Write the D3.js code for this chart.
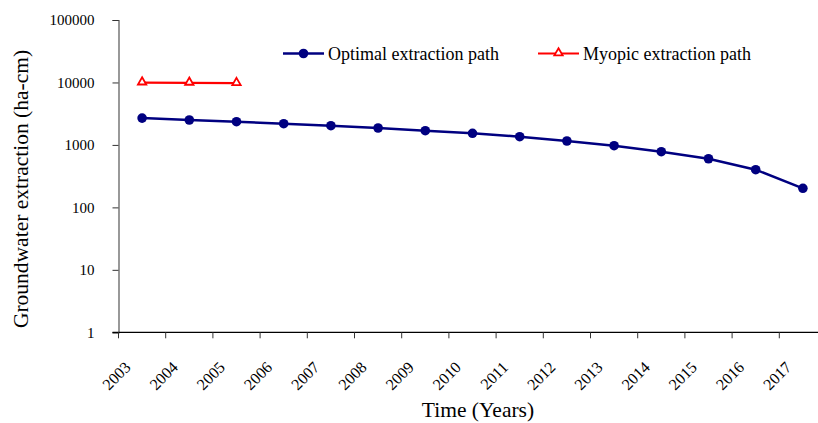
<!DOCTYPE html>
<html>
<head>
<meta charset="utf-8">
<script src="https://cdn.jsdelivr.net/npm/d3@7"></script>
<style>
  body { margin: 0; background: #fff; }
  svg text { font-family: "Liberation Serif", "Times New Roman", serif; fill: #000; }
</style>
</head>
<body>
<div id="chart"></div>
<script>
const years = [2003, 2004, 2005, 2006, 2007, 2008, 2009, 2010, 2011, 2012, 2013, 2014, 2015, 2016, 2017];
const optimal = [2690, 2506, 2355, 2187, 2031, 1866, 1690, 1535, 1355, 1156, 972, 779, 601, 401, 202];
const myopicYears = [2003, 2004, 2005];
const myopic = [9950, 9850, 9750];
const yTicks = [1, 10, 100, 1000, 10000, 100000];

const W = 818, H = 423;
const svg = d3.select('#chart').append('svg')
  .attr('width', W)
  .attr('height', H);

// plot box (x axis runs past the right edge like in the source)
const x = d3.scaleBand()
  .domain(years)
  .range([118.5, 118.5 + 47.2 * years.length]);

const y = d3.scaleLog()
  .domain([1, 100000])
  .range([332.3, 20]);

const xc = d => x(d) + x.bandwidth() / 2;

// y axis
const yAxis = svg.append('g')
  .attr('transform', 'translate(118.5,0)')
  .call(d3.axisLeft(y).tickValues(yTicks).tickSize(6).tickPadding(18).tickFormat(d3.format('d')));
yAxis.select('.domain').attr('stroke', '#555').attr('stroke-width', 1.2);
yAxis.selectAll('.tick line').attr('stroke', '#333');
yAxis.selectAll('text').style('font-size', '15px').attr('fill', '#000');

// x axis
const xAxis = svg.append('g')
  .attr('transform', 'translate(0,332.3)');
xAxis.append('line')
  .attr('x1', 112.5).attr('x2', W)
  .attr('stroke', '#000').attr('stroke-width', 1.2);
xAxis.selectAll('line.tk')
  .data(years)
  .enter().append('line')
  .attr('class', 'tk')
  .attr('x1', d => x(d)).attr('x2', d => x(d))
  .attr('y1', 0).attr('y2', 6)
  .attr('stroke', '#333');
xAxis.selectAll('text.lbl')
  .data(years)
  .enter().append('text')
  .attr('class', 'lbl')
  .attr('text-anchor', 'end')
  .attr('transform', d => `translate(${xc(d) - 10.5},36) rotate(-45)`)
  .style('font-size', '16px')
  .text(d => d);

// axis titles
svg.append('text')
  .attr('x', 478).attr('y', 417)
  .attr('text-anchor', 'middle')
  .style('font-size', '21.5px')
  .text('Time (Years)');

svg.append('text')
  .attr('transform', 'translate(28,189) rotate(-90)')
  .attr('text-anchor', 'middle')
  .style('font-size', '21.5px')
  .text('Groundwater extraction (ha-cm)');

const navy = '#000080';
const red = '#ff0000';

// optimal path
const optData = years.map((d, i) => ({ year: d, v: optimal[i] }));
const line = d3.line()
  .x(d => xc(d.year))
  .y(d => y(d.v));

svg.append('path')
  .datum(optData)
  .attr('d', line)
  .attr('fill', 'none')
  .attr('stroke', navy)
  .attr('stroke-width', 2.5);

svg.selectAll('circle.opt')
  .data(optData)
  .enter().append('circle')
  .attr('class', 'opt')
  .attr('cx', d => xc(d.year))
  .attr('cy', d => y(d.v))
  .attr('r', 4.8)
  .attr('fill', navy);

// myopic path
const myoData = myopicYears.map((d, i) => ({ year: d, v: myopic[i] }));
svg.append('path')
  .datum(myoData)
  .attr('d', line)
  .attr('fill', 'none')
  .attr('stroke', red)
  .attr('stroke-width', 2.2);

const tri = d3.symbol().type(d3.symbolTriangle).size(30);
svg.selectAll('path.myo')
  .data(myoData)
  .enter().append('path')
  .attr('class', 'myo')
  .attr('d', tri)
  .attr('transform', d => `translate(${xc(d.year)},${y(d.v) - 0.5})`)
  .attr('fill', '#fff')
  .attr('stroke', red)
  .attr('stroke-width', 1.8);

// legend
const legend = [
  { name: 'Optimal extraction path', color: navy, x0: 283, mark: 'circle' },
  { name: 'Myopic extraction path', color: red, x0: 538, mark: 'tri' }
];
const lg = svg.append('g').attr('transform', 'translate(0,53.5)');
legend.forEach(l => {
  lg.append('line')
    .attr('x1', l.x0).attr('x2', l.x0 + 41)
    .attr('stroke', l.color)
    .attr('stroke-width', l.mark === 'circle' ? 2.5 : 2.2);
  if (l.mark === 'circle') {
    lg.append('circle').attr('cx', l.x0 + 20.5).attr('r', 4.8).attr('fill', l.color);
  } else {
    lg.append('path').attr('d', tri)
      .attr('transform', `translate(${l.x0 + 20.5},-0.5)`)
      .attr('fill', '#fff').attr('stroke', l.color).attr('stroke-width', 1.8);
  }
  lg.append('text')
    .attr('x', l.x0 + 45).attr('y', 6)
    .style('font-size', '18px')
    .text(l.name);
});
</script>
</body>
</html>
